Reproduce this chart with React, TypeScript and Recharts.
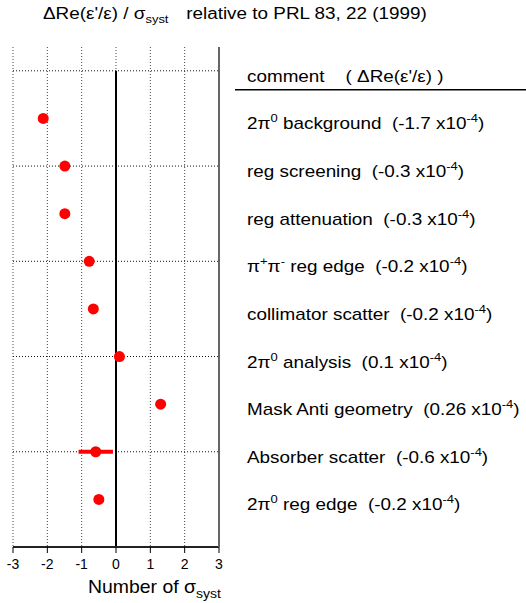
import {
  ComposedChart,
  Scatter,
  XAxis,
  YAxis,
  CartesianGrid,
  ReferenceLine,
  ErrorBar,
  Label,
} from "recharts";

// one row per systematic check, top to bottom
const comments = [
  "2π^{0} background",
  "reg screening",
  "reg attenuation",
  "π^{+}π^{-} reg edge",
  "collimator scatter",
  "2π^{0} analysis",
  "Mask Anti geometry",
  "Absorber scatter",
  "2π^{0} reg edge",
];
const shifts = ["-1.7", "-0.3", "-0.3", "-0.2", "-0.2", "0.1", "0.26", "-0.6", "-0.2"];
const sigmas = [-2.12, -1.49, -1.49, -0.78, -0.66, 0.1, 1.3, -0.59, -0.5];
const sigmaErrors = [0, 0, 0, 0, 0, 0, 0, 0.5, 0];
const rows = [1, 2, 3, 4, 5, 6, 7, 8, 9];

const xTicks = [-3, -2, -1, 0, 1, 2, 3];
const gridRows = [0, 2, 4, 6, 8];
const labelRows = [0, 1, 2, 3, 4, 5, 6, 7, 8, 9];

const data = sigmas.map((s, i) => ({
  sigma: s,
  row: rows[i],
  err: sigmaErrors[i],
}));

const FONT = "'Liberation Sans', Arial, sans-serif";
// the original's lettering is a bit wider than Arial
const STRETCH = 1.18;

// "2π^{0} background" -> text with superscripts
function withSup(str: string, key: string) {
  const parts = str.split(/\^\{([^}]*)\}/);
  const out: any[] = [];
  let raised = false;
  parts.forEach((p, i) => {
    if (p === "") return;
    if (i % 2 === 1) {
      out.push(
        <tspan key={key + i} dy={raised ? 0 : -7} fontSize={11}>
          {p}
        </tspan>
      );
      raised = true;
    } else {
      out.push(
        <tspan key={key + i} dy={raised ? 7 : 0}>
          {p}
        </tspan>
      );
      raised = false;
    }
  });
  return out;
}

function CommentTick(props: any) {
  const { y, payload } = props;
  const i = payload.value;
  const x = 219;
  const tf = `translate(${x + 28} ${y + 11}) scale(${STRETCH} 1)`;
  if (i === 0) {
    return (
      <g>
        <text
          transform={tf}
          fontSize={16}
          fontFamily={FONT}
          fill="#000"
          style={{ whiteSpace: "pre" }}
        >
          {"comment    ( ΔRe(ε'/ε) )"}
        </text>
        <line x1={x + 16} x2={x + 307} y1={y + 19} y2={y + 19} stroke="#000" strokeWidth={1.5} />
      </g>
    );
  }
  const label = comments[i - 1] + "  (" + shifts[i - 1] + " x10^{-4})";
  return (
    <text
      transform={tf}
      fontSize={16}
      fontFamily={FONT}
      fill="#000"
      style={{ whiteSpace: "pre" }}
    >
      {withSup(label, "c" + i)}
    </text>
  );
}

function AxisTitle(props: any) {
  const { viewBox } = props;
  return (
    <text
      transform={`translate(${viewBox.x + 75} ${viewBox.y + 46}) scale(1.08 1)`}
      fontSize={18}
      fontFamily={FONT}
      fill="#000"
    >
      <tspan>Number of σ</tspan>
      <tspan dy={5} fontSize={13}>syst</tspan>
    </text>
  );
}

function Dot(props: any) {
  return <circle cx={props.cx} cy={props.cy} r={5.5} fill="#ff0000" />;
}

function NoDot() {
  return <g />;
}

export default function App() {
  return (
    <div style={{ position: "absolute", left: 0, top: 0, width: 526, height: 603, background: "#fff" }}>
      <div
        style={{
          position: "absolute",
          left: 43,
          top: 5,
          fontFamily: FONT,
          fontSize: 16,
          whiteSpace: "pre",
          color: "#000",
          transform: `scaleX(${STRETCH})`,
          transformOrigin: "left top",
        }}
      >
        {"ΔRe(ε'/ε) / σ"}
        <sub style={{ fontSize: 11 }}>syst</sub>
        <span style={{ marginLeft: 15 }}>relative to PRL 83, 22 (1999)</span>
      </div>
      <ComposedChart
        width={526}
        height={603}
        data={data}
        margin={{ top: 47, right: 0, bottom: 6, left: 13 }}
      >
        <CartesianGrid
          xAxisId="b"
          yAxisId="l"
          horizontal={false}
          stroke="#444"
          strokeDasharray="1 2"
        />
        {gridRows.map((r) => (
          <ReferenceLine
            key={r}
            xAxisId="b"
            yAxisId="l"
            y={r}
            stroke="#111"
            strokeDasharray="1 2"
          />
        ))}
        <XAxis
          xAxisId="b"
          type="number"
          dataKey="sigma"
          domain={[-3, 3]}
          ticks={xTicks}
          height={50}
          tickSize={6}
          tickMargin={6}
          axisLine={{ stroke: "#222", strokeWidth: 2 }}
          tickLine={{ stroke: "#000" }}
          tick={{ fontSize: 14, fontFamily: FONT, fill: "#000" }}
        >
          <Label content={<AxisTitle />} />
        </XAxis>
        <XAxis
          xAxisId="t"
          type="number"
          dataKey="sigma"
          orientation="top"
          domain={[-3, 3]}
          ticks={xTicks}
          height={0}
          tick={false}
          tickLine={false}
          axisLine={{ stroke: "#000" }}
        />
        <YAxis
          yAxisId="l"
          type="number"
          dataKey="row"
          domain={[-0.5, 10]}
          reversed
          ticks={gridRows}
          width={0}
          tick={false}
          tickLine={false}
          axisLine={{ stroke: "#000", strokeWidth: 1.5 }}
        />
        <YAxis
          yAxisId="r"
          orientation="right"
          type="number"
          dataKey="row"
          domain={[-0.5, 10]}
          reversed
          ticks={labelRows}
          interval={0}
          width={307}
          tickSize={0}
          tickMargin={0}
          tickLine={false}
          axisLine={{ stroke: "#666", strokeWidth: 2 }}
          tick={<CommentTick />}
        />
        <ReferenceLine
          xAxisId="b"
          yAxisId="l"
          segment={[
            { x: 0, y: 0 },
            { x: 0, y: 10 },
          ]}
          stroke="#000"
          strokeWidth={2}
        />
        <Scatter
          xAxisId="t"
          yAxisId="r"
          dataKey="row"
          shape={<NoDot />}
          isAnimationActive={false}
        />
        <Scatter
          xAxisId="b"
          yAxisId="l"
          dataKey="row"
          shape={<Dot />}
          isAnimationActive={false}
        >
          <ErrorBar
            dataKey="err"
            direction="x"
            width={0}
            stroke="#ff0000"
            strokeWidth={4}
          />
        </Scatter>
      </ComposedChart>
    </div>
  );
}
